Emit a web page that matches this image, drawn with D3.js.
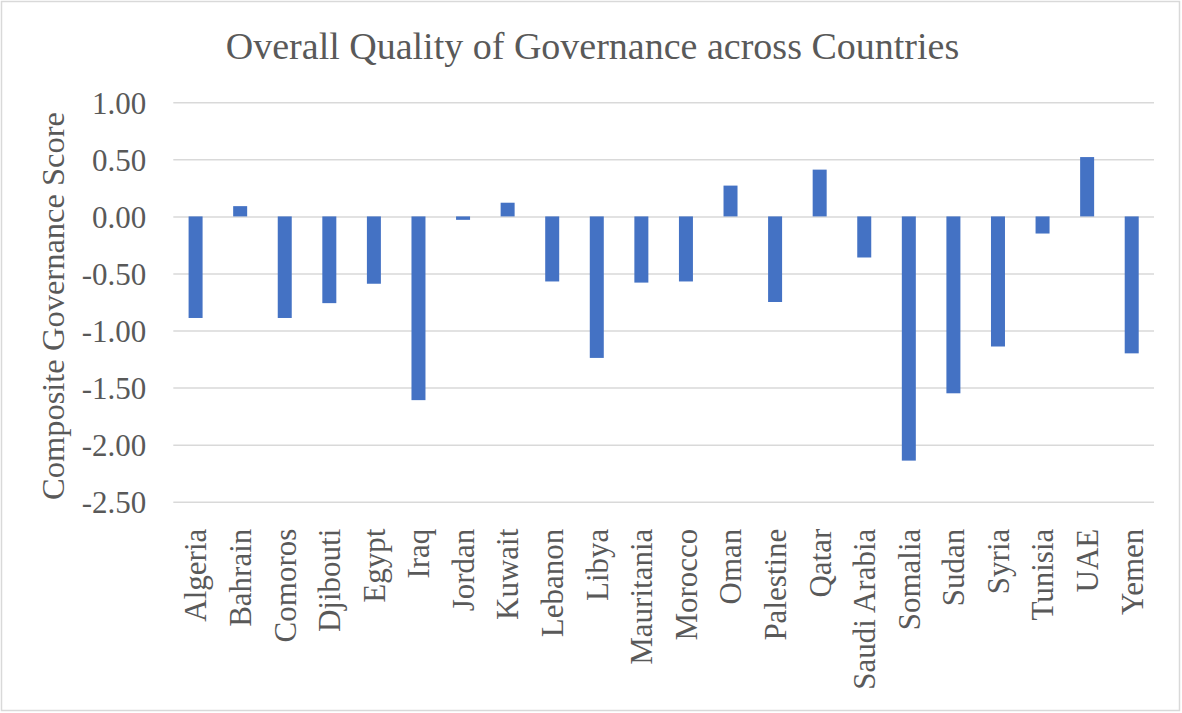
<!DOCTYPE html>
<html><head><meta charset="utf-8">
<script src="https://cdn.jsdelivr.net/npm/d3@7"></script>
<style>body{margin:0;background:#fff}svg{display:block}text{font-family:"Liberation Serif","Times New Roman",serif;fill:#595959}</style>
</head><body>
<script>
const countries = ["Algeria","Bahrain","Comoros","Djibouti","Egypt","Iraq","Jordan","Kuwait","Lebanon","Libya","Mauritania","Morocco","Oman","Palestine","Qatar","Saudi Arabia","Somalia","Sudan","Syria","Tunisia","UAE","Yemen"];
const scores = [-0.89,0.09,-0.89,-0.76,-0.59,-1.61,-0.03,0.12,-0.57,-1.24,-0.58,-0.57,0.27,-0.75,0.41,-0.36,-2.14,-1.55,-1.14,-0.15,0.52,-1.20];
const yTicks = [1.0,0.5,0,-0.5,-1.0,-1.5,-2.0,-2.5];
const title = "Overall Quality of Governance across Countries";
const yTitle = "Composite Governance Score";

const W = 1182, H = 713;
const svg = d3.select("body").append("svg").attr("width", W).attr("height", H);
svg.append("rect").attr("x",1.5).attr("y",1.5).attr("width",W-4).attr("height",H-4)
  .attr("fill","#fff").attr("stroke","#d9d9d9").attr("stroke-width",1.5);

const pLeft = 173.3, pRight = 1154, pTop = 102.3, pBottom = 501.7;
const x = d3.scaleBand().domain(countries).range([pLeft, pRight]).paddingInner(0.686).paddingOuter(0.343);
const y = d3.scaleLinear().domain([-2.5, 1.0]).range([pBottom, pTop]);

svg.append("text").attr("x", 592.5).attr("y", 58.5).attr("text-anchor","middle")
  .style("font-size","38px").text(title);

const fmt = d => d3.format(".2f")(d).replace("\u2212", "-");
const yAxis = d3.axisLeft(y).tickValues(yTicks).tickFormat(fmt).tickSize(-(pRight-pLeft)).tickPadding(27);
const ga = svg.append("g").attr("transform", `translate(${pLeft},0)`).call(yAxis);
ga.select(".domain").remove();
ga.selectAll(".tick line").attr("stroke","#d9d9d9").attr("stroke-width",1.5);
ga.selectAll(".tick text").style("font-size","31px").attr("fill","#595959").attr("x",-27).attr("dy","0.35em")
  .style("font-family",'"Liberation Serif","Times New Roman",serif');

svg.append("g").selectAll("rect").data(countries).join("rect")
  .attr("x", d => x(d)).attr("width", x.bandwidth())
  .attr("y", (d,i) => y(Math.max(0, scores[i])))
  .attr("height", (d,i) => Math.abs(y(scores[i]) - y(0)))
  .attr("fill","#4472c4");

const xAxis = d3.axisBottom(x).tickSize(0).tickPadding(0);
const gx = svg.append("g").attr("transform", `translate(0,${pBottom})`).call(xAxis);
gx.select(".domain").remove();
gx.selectAll(".tick text").attr("transform","translate(0,27) rotate(-90)")
  .attr("text-anchor","end").attr("x",0).attr("y",0).attr("dy","0.35em")
  .style("font-size","31px").attr("fill","#595959")
  .style("font-family",'"Liberation Serif","Times New Roman",serif');

svg.append("text").attr("transform","translate(64,306) rotate(-90)").attr("text-anchor","middle")
  .style("font-size","32.5px").text(yTitle);
</script>
</body></html>
